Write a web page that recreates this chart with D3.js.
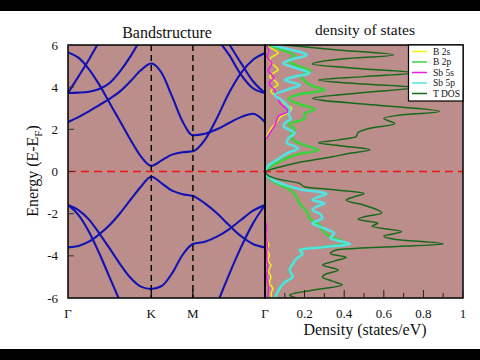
<!DOCTYPE html>
<html><head><meta charset="utf-8">
<script src="https://cdn.jsdelivr.net/npm/d3@7"></script>
<style>html,body{margin:0;padding:0;background:#fff;} svg{display:block;} svg text{font-family:"Liberation Serif","Times New Roman","DejaVu Serif",serif;}</style>
</head><body>
<svg id="c" width="480" height="360"></svg>
<script>
// ---- k-path (hexagonal: Γ-K-M-Γ) ----
const kGrid = [0, 0.125, 0.25, 0.375, 0.5, 0.625, 0.75, 0.875, 1, 1.125, 1.25, 1.375, 1.5, 1.644, 1.789, 1.933, 2.077, 2.222, 2.366];
const kTickPos = [0, 1, 1.5, 2.366];
const kTickLabels = ["Γ", "K", "M", "Γ"];
const energyTicks = [6, 4, 2, 0, -2, -4, -6];
const dosTicks = [0.2, 0.4, 0.6, 0.8, 1];
const dosTickLabels = ["0.2", "0.4", "0.6", "0.8", "1"];
const dosMinorTicks = [0.1, 0.3, 0.5, 0.7, 0.9];

// ---- band energies (eV) on kGrid ----
const bandC1 = [5.65, 5.4, 4.86, 4.12, 3.25, 2.38, 1.51, 0.72, 0.27, 0.53, 0.8, 0.91, 0.96, 1.5, 2.54, 3.72, 4.67, 5.3, 5.62];
const bandC2 = [2.35, 2.58, 2.85, 3.15, 3.45, 3.8, 4.28, 4.8, 5.12, 4.67, 3.56, 2.38, 1.72, 1.79, 2.0, 2.3, 2.58, 2.74, 2.35];
const bandC3 = [3.72, 3.74, 3.78, 3.91, 4.2, 4.75, 5.46, 6.3, null, null, null, null, null, null, null, null, null, null, null];
const bandC4 = [3.72, 4.5, 5.3, 6.17, null, null, null, null, null, null, null, null, null, null, null, null, null, null, null];
const bandC5 = [null, null, null, null, null, null, null, null, null, null, null, null, null, null, 6.3, 5.54, 4.6, 3.95, 3.72];
const bandC6 = [null, null, null, null, null, null, null, null, null, null, null, null, null, null, 6.9, 6.05, 5.15, 4.28, 3.72];
const bandV1 = [-3.6, -3.53, -3.33, -2.98, -2.54, -1.98, -1.35, -0.72, -0.25, -0.56, -0.91, -1.08, -1.16, -1.51, -1.98, -2.54, -3.06, -3.44, -3.6];
const bandV2 = [-1.59, -1.83, -2.27, -2.93, -3.65, -4.39, -5.04, -5.46, -5.57, -5.43, -4.83, -3.96, -3.44, -3.33, -3.09, -2.74, -2.3, -1.86, -1.59];
const bandV3 = [-1.59, -2.06, -2.85, -3.88, -5.02, -6.17, null, null, null, null, null, null, null, null, null, null, null, null, null];
const bandV4 = [null, null, null, null, null, null, null, null, null, null, null, null, null, null, -6.3, -4.9, -3.6, -2.46, -1.59];
const bands = [bandC1, bandC2, bandC3, bandC4, bandC5, bandC6, bandV1, bandV2, bandV3, bandV4];

// ---- DOS: [energy, states/eV] ----
const dosB2s = [[6.0,0.01],[5.8,0.04],[5.62,0.066],[5.4,0.03],[5.23,0.024],[5.0,0.05],[4.83,0.066],[4.65,0.04],[4.51,0.024],[4.3,0.05],[4.12,0.066],[3.95,0.04],[3.8,0.03],[3.5,0.07],[3.2,0.1],[3.0,0.135],[2.8,0.12],[2.6,0.08],[2.35,0.06],[2.1,0.035],[1.8,0.015],[1.5,0.003],[1.3,0],[-3.1,0],[-3.3,0.012],[-3.5,0.02],[-3.7,0.01],[-3.95,0.022],[-4.2,0.015],[-4.45,0.03],[-4.7,0.018],[-5.0,0.03],[-5.3,0.022],[-5.55,0.04],[-5.8,0.03],[-6.0,0.035]];
const dosB2p = [[6.0,0.02],[5.75,0.09],[5.5,0.15],[5.25,0.12],[5.0,0.17],[4.75,0.23],[4.55,0.18],[4.3,0.2],[4.05,0.24],[3.87,0.3],[3.65,0.17],[3.45,0.12],[3.2,0.17],[2.95,0.25],[2.75,0.2],[2.5,0.2],[2.25,0.12],[2.0,0.15],[1.75,0.13],[1.5,0.14],[1.25,0.2],[1.02,0.27],[0.8,0.16],[0.5,0.08],[0.25,0.03],[0.05,0.003],[0,0],[-0.2,0.01],[-0.56,0.057],[-0.8,0.116],[-1.19,0.158],[-1.51,0.175],[-1.9,0.21],[-2.3,0.234],[-2.54,0.276],[-2.77,0.29],[-3.09,0.327],[-3.33,0.394],[-3.44,0.4],[-3.58,0.3],[-3.72,0.175],[-3.9,0.19],[-4.12,0.16],[-4.4,0.14],[-4.67,0.125],[-4.99,0.14],[-5.25,0.1],[-5.54,0.074],[-5.8,0.06],[-6.0,0.05]];
const dosSb5s = [[6.0,0.005],[5.7,0.02],[5.45,0.01],[5.1,0.035],[4.8,0.015],[4.45,0.045],[4.2,0.02],[3.85,0.05],[3.55,0.06],[3.2,0.08],[2.85,0.116],[2.65,0.07],[2.45,0.06],[2.2,0.05],[1.9,0.03],[1.6,0.01],[1.45,0],[-2.3,0],[-2.6,0.008],[-3.0,0.004],[-3.5,0.012],[-4.0,0.007],[-4.5,0.014],[-5.0,0.008],[-5.5,0.018],[-6.0,0.012]];
const dosSb5p = [[6.0,0.03],[5.8,0.12],[5.53,0.21],[5.3,0.13],[5.13,0.093],[4.9,0.16],[4.66,0.225],[4.5,0.15],[4.34,0.1],[4.1,0.177],[3.9,0.12],[3.63,0.05],[3.35,0.09],[3.1,0.115],[2.92,0.126],[2.7,0.12],[2.5,0.13],[2.3,0.1],[2.13,0.093],[1.95,0.13],[1.81,0.15],[1.6,0.12],[1.34,0.11],[1.2,0.15],[1.1,0.168],[0.9,0.12],[0.55,0.06],[0.3,0.02],[0.1,0.005],[0,0],[-0.2,0.01],[-0.45,0.05],[-0.7,0.12],[-0.85,0.18],[-1.05,0.31],[-1.2,0.27],[-1.35,0.24],[-1.51,0.30],[-1.67,0.26],[-1.83,0.24],[-2.02,0.28],[-2.22,0.29],[-2.46,0.24],[-2.7,0.3],[-2.93,0.35],[-3.17,0.33],[-3.44,0.43],[-3.58,0.3],[-3.72,0.175],[-3.9,0.19],[-4.12,0.16],[-4.4,0.14],[-4.67,0.125],[-4.99,0.14],[-5.25,0.1],[-5.54,0.074],[-5.8,0.06],[-6.0,0.05]];
const dosTotal = [[6.0,0.10],[5.75,0.38],[5.53,0.648],[5.35,0.40],[5.1,0.24],[4.9,0.45],[4.68,0.76],[4.5,0.5],[4.34,0.27],[4.15,0.5],[3.98,0.76],[3.75,0.5],[3.47,0.24],[3.15,0.56],[2.85,0.88],[2.65,0.66],[2.52,0.6],[2.27,0.655],[2.05,0.53],[1.85,0.47],[1.65,0.46],[1.5,0.37],[1.36,0.27],[1.2,0.4],[1.03,0.53],[0.85,0.42],[0.7,0.34],[0.45,0.18],[0.25,0.09],[0.1,0.03],[0,0.005],[-0.15,0.01],[-0.35,0.06],[-0.55,0.17],[-0.72,0.2],[-0.88,0.36],[-1.04,0.5],[-1.2,0.45],[-1.36,0.41],[-1.6,0.5],[-1.97,0.59],[-2.15,0.5],[-2.27,0.47],[-2.45,0.57],[-2.6,0.54],[-2.85,0.69],[-3.07,0.6],[-3.22,0.66],[-3.44,0.9],[-3.58,0.6],[-3.72,0.36],[-3.9,0.33],[-4.07,0.41],[-4.25,0.35],[-4.44,0.29],[-4.67,0.37],[-4.85,0.31],[-5.0,0.29],[-5.2,0.34],[-5.38,0.39],[-5.6,0.26],[-5.86,0.125],[-6.0,0.16]];

const dosSeries = [
  {name: "B 2s", data: dosB2s, color: "#f2ee10", w: 1.5},
  {name: "B 2p", data: dosB2p, color: "#3cd23c", w: 2.6},
  {name: "Sb 5s", data: dosSb5s, color: "#e81ee8", w: 1.5},
  {name: "Sb 5p", data: dosSb5p, color: "#52e2e2", w: 2.6},
  {name: "T DOS", data: dosTotal, color: "#17691a", w: 1.5}
];

// ---- layout ----
const bgColor = "#bb8e8c";
const bandColor = "#1212b4";
const pTop = 45, pBottom = 298, bx0 = 68, bx1 = 265, dx1 = 463;

const svg = d3.select("#c");
const y = d3.scaleLinear().domain([-6, 6]).range([pBottom, pTop]);
const xk = d3.scaleLinear().domain([0, 2.366]).range([bx0, bx1]);
const xd = d3.scaleLinear().domain([0, 1]).range([bx1, dx1]);

// black bars
svg.append("rect").attr("x",0).attr("y",0).attr("width",480).attr("height",11).attr("fill","#000");
svg.append("rect").attr("x",0).attr("y",349).attr("width",480).attr("height",11).attr("fill","#000");

const defs = svg.append("defs");
defs.append("clipPath").attr("id","clipB").append("rect").attr("x",bx0).attr("y",pTop).attr("width",bx1-bx0).attr("height",pBottom-pTop);
defs.append("clipPath").attr("id","clipD").append("rect").attr("x",bx1).attr("y",pTop).attr("width",dx1-bx1).attr("height",pBottom-pTop);

// panel backgrounds
svg.append("rect").attr("x",bx0).attr("y",pTop).attr("width",bx1-bx0).attr("height",pBottom-pTop).attr("fill",bgColor);
svg.append("rect").attr("x",bx1).attr("y",pTop).attr("width",dx1-bx1).attr("height",pBottom-pTop).attr("fill",bgColor);

// bands
const gB = svg.append("g").attr("clip-path","url(#clipB)");
const bandLine = d3.line()
  .defined(d => d[1] !== null)
  .x(d => xk(d[0])).y(d => y(d[1]))
  .curve(d3.curveMonotoneX);
bands.forEach(b => {
  gB.append("path")
    .attr("d", bandLine(kGrid.map((k, i) => [k, b[i]])))
    .attr("fill","none").attr("stroke",bandColor).attr("stroke-width",2.1);
});
// symmetry dashed lines
[kTickPos[1], kTickPos[2]].forEach(k => {
  svg.append("line").attr("x1",xk(k)).attr("x2",xk(k)).attr("y1",pTop).attr("y2",pBottom)
    .attr("stroke","#000").attr("stroke-width",1.4).attr("stroke-dasharray","6,4");
});

// DOS curves
const gD = svg.append("g").attr("clip-path","url(#clipD)");
const dosLine = d3.line().x(d => xd(d[1])).y(d => y(d[0])).curve(d3.curveMonotoneY);
dosSeries.forEach(s => {
  gD.append("path").attr("d", dosLine(s.data))
    .attr("fill","none").attr("stroke",s.color).attr("stroke-width",s.w);
});

// Fermi level
svg.append("line").attr("x1",bx0).attr("x2",dx1).attr("y1",y(0)).attr("y2",y(0))
  .attr("stroke","#f01515").attr("stroke-width",1.5).attr("stroke-dasharray","8,5");

// frames
svg.append("rect").attr("x",bx0).attr("y",pTop).attr("width",bx1-bx0).attr("height",pBottom-pTop)
  .attr("fill","none").attr("stroke","#000").attr("stroke-width",1.5);
svg.append("rect").attr("x",bx1).attr("y",pTop).attr("width",dx1-bx1).attr("height",pBottom-pTop)
  .attr("fill","none").attr("stroke","#000").attr("stroke-width",1.5);

// y ticks (inward)
energyTicks.forEach(t => {
  svg.append("line").attr("x1",bx0).attr("x2",bx0+6).attr("y1",y(t)).attr("y2",y(t))
    .attr("stroke","#333").attr("stroke-width",1);
  svg.append("text").attr("x",58).attr("y",y(t)).attr("dy","0.35em")
    .attr("text-anchor","end").attr("font-size",13).attr("fill","#111")
    .text(t);
});
// k ticks
kTickPos.forEach((k, i) => {
  if (i > 0 && i < kTickPos.length - 1)
    svg.append("line").attr("x1",xk(k)).attr("x2",xk(k)).attr("y1",pBottom).attr("y2",pBottom-8)
      .attr("stroke","#000").attr("stroke-width",1.2);
  svg.append("text").attr("x",xk(k)).attr("y",318).attr("text-anchor","middle")
    .attr("font-size",13).attr("fill","#111").text(kTickLabels[i]);
});
// DOS ticks
dosTicks.forEach((t, i) => {
  svg.append("line").attr("x1",xd(t)).attr("x2",xd(t)).attr("y1",pBottom).attr("y2",pBottom-8)
    .attr("stroke","#222").attr("stroke-width",1);
  svg.append("text").attr("x",xd(t)).attr("y",318).attr("text-anchor","middle")
    .attr("font-size",13).attr("fill","#111").text(dosTickLabels[i]);
});
dosMinorTicks.forEach(t => {
  svg.append("line").attr("x1",xd(t)).attr("x2",xd(t)).attr("y1",pBottom).attr("y2",pBottom-5)
    .attr("stroke","#222").attr("stroke-width",1);
});

// titles & axis labels
svg.append("text").attr("x",167).attr("y",38).attr("text-anchor","middle")
  .attr("font-size",16).attr("fill","#111").text("Bandstructure");
svg.append("text").attr("x",365).attr("y",35).attr("text-anchor","middle")
  .attr("font-size",15.5).attr("fill","#111").text("density of states");
svg.append("text").attr("x",365).attr("y",335).attr("text-anchor","middle")
  .attr("font-size",16).attr("fill","#111").text("Density (states/eV)");
const yl = svg.append("text").attr("transform","translate(38,171) rotate(-90)")
  .attr("text-anchor","middle").attr("font-size",16).attr("fill","#111");
yl.append("tspan").text("Energy (E-E");
yl.append("tspan").attr("font-size",11).attr("dy",4).text("F");
yl.append("tspan").attr("dy",-4).text(")");

// legend
const lg = svg.append("g");
lg.append("rect").attr("x",408.5).attr("y",45).attr("width",54.5).attr("height",56)
  .attr("fill","#fff").attr("stroke","#000").attr("stroke-width",1.2);
dosSeries.forEach((s, i) => {
  const yy = 51.5 + i * 10.5;
  lg.append("line").attr("x1",412).attr("x2",427).attr("y1",yy).attr("y2",yy)
    .attr("stroke",s.color).attr("stroke-width",1.5);
  lg.append("text").attr("x",433).attr("y",yy).attr("dy","0.35em")
    .attr("font-size",9.5).attr("fill","#111").text(s.name);
});
</script>
</body></html>
